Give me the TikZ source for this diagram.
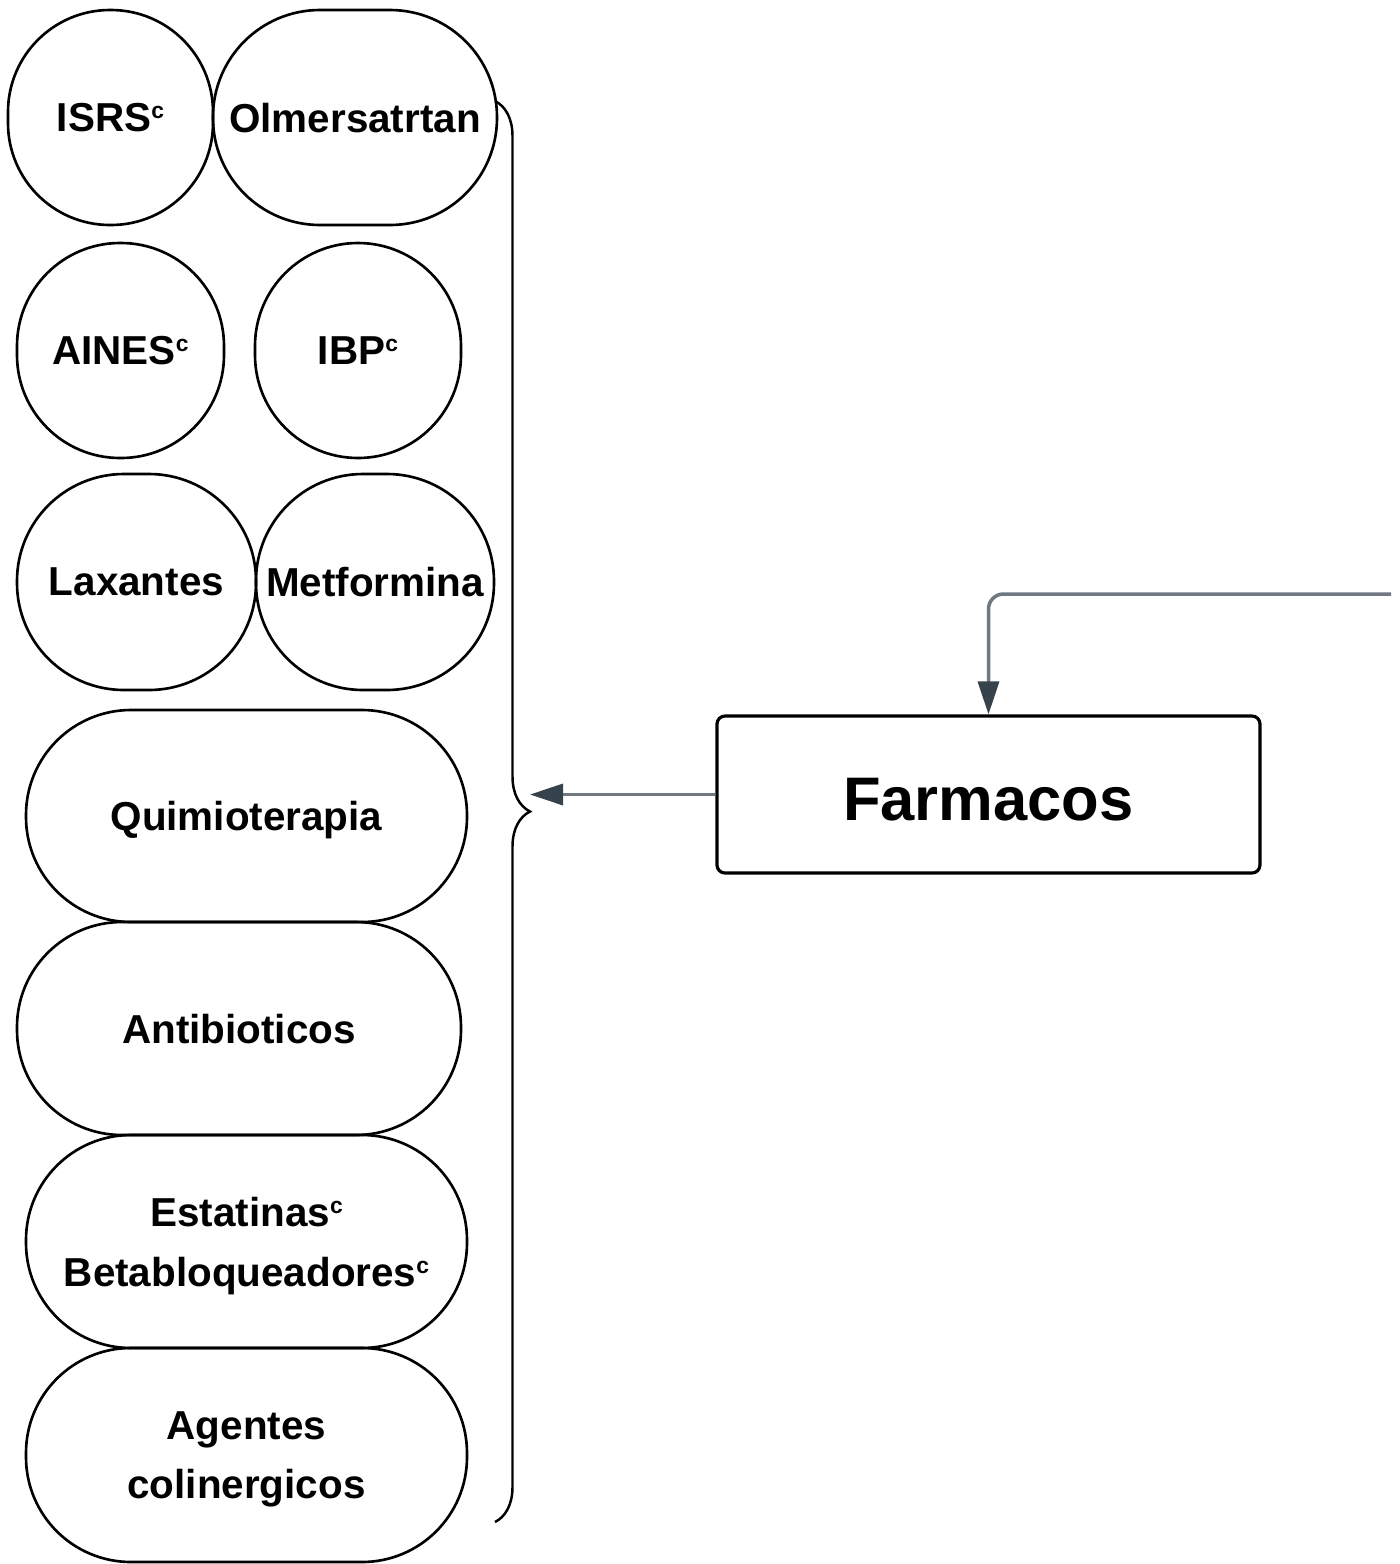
\documentclass[tikz,border=0pt]{standalone}
\usepackage{fontspec}
\setmainfont{Liberation Sans}
\usepackage{tikz}
\usetikzlibrary{arrows.meta, positioning, decorations.pathreplacing}
\definecolor{linkcolor}{RGB}{112, 120, 130}
\definecolor{tipcolor}{RGB}{54, 66, 76}
\newcommand{\supc}{\raisebox{0.6ex}{\fontsize{6.5}{7}\selectfont c}}

\begin{document}
\begin{tikzpicture}[
    droga/.style={draw, line width=0.75pt, rounded corners=#1, inner sep=0pt, align=center, text depth=0pt,
        font=\bfseries\fontsize{11.5}{17}\selectfont},
    droga/.default=1.05cm,
    flecha/.style={draw=linkcolor, line width=1pt, -{Triangle[length=3.3mm, width=2.1mm, color=tipcolor]}}
]
    \useasboundingbox (0, 0) rectangle (14, -15.64);

    % First rows
    \node[droga=1.02cm, minimum width=2.05cm, minimum height=2.15cm] (isrs) at (1.105, -1.175) {ISRS\supc};
    \node[droga=1.07cm, minimum width=2.84cm, minimum height=2.15cm] (olmer) at (3.55, -1.175) {Olmersatrtan};
    \node[droga=1.03cm, minimum width=2.07cm, minimum height=2.15cm] (aines) at (1.205, -3.505) {AINES\supc};
    \node[droga=1.03cm, minimum width=2.06cm, minimum height=2.15cm] (ibp) at (3.58, -3.505) {IBP\supc};
    \node[droga=1.07cm, minimum width=2.39cm, minimum height=2.16cm] (laxantes) at (1.365, -5.82) {Laxantes};
    \node[droga=1.07cm, minimum width=2.38cm, minimum height=2.16cm] (metformina) at (3.75, -5.82) {Metformina};

    % Wide ones
    \node[droga, minimum width=4.41cm, minimum height=2.12cm] (quimio) at (2.465, -8.16) {Quimioterapia};
    \node[droga, minimum width=4.44cm, minimum height=2.13cm] (antibio) at (2.39, -10.285) {Antibioticos};
    \node[droga, minimum width=4.41cm, minimum height=2.13cm] (estatinas) at (2.465, -12.415) {Estatinas\supc\\Betabloqueadores\supc};
    \node[droga, minimum width=4.41cm, minimum height=2.14cm] (agentes) at (2.465, -14.55) {Agentes\\colinergicos};

    % Brace
    \coordinate (llaveA) at (4.95, -1.01);
    \coordinate (llaveB) at (4.95, -15.22);
    \draw[line width=0.7pt, decorate, decoration={brace, amplitude=0.35cm}] (llaveA) -- (llaveB);
    \coordinate (llave) at (5.30, -7.945);

    % Farmacos
    \node[draw, line width=0.9pt, rounded corners=0.08cm, minimum width=5.43cm, minimum height=1.57cm,
        text height=0.51cm, text depth=0pt, font=\bfseries\fontsize{17.5}{21}\selectfont] (farm) at (9.885, -7.945) {Farmacos};
    \coordinate (entrada) at (13.91, -5.94);

    % Connectors
    \draw[flecha] (farm.west) -- (llave);
    \draw[flecha, rounded corners=0.15cm] (entrada) -| (farm.north);
\end{tikzpicture}
\end{document}
